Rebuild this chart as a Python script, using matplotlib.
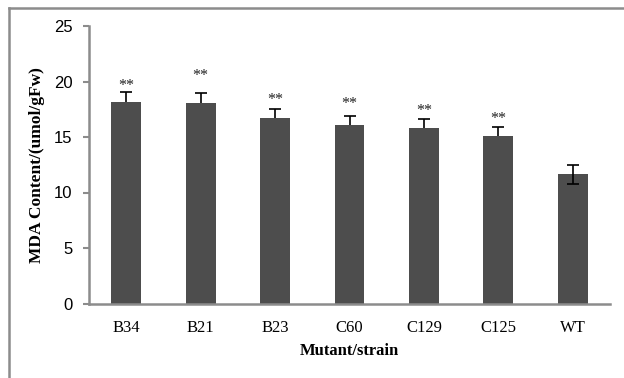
import matplotlib
matplotlib.use("Agg")
import matplotlib.pyplot as plt
from matplotlib.lines import Line2D

categories = ["B34", "B21", "B23", "C60", "C129", "C125", "WT"]
values = [18.15, 18.1, 16.7, 16.05, 15.8, 15.05, 11.65]
errors = [0.87, 0.82, 0.82, 0.85, 0.83, 0.82, 0.85]
lower_shown = [False, False, False, False, False, False, True]
star_labels = ["**", "**", "**", "**", "**", "**", ""]
star_heights = [19.6, 20.5, 18.3, 18.0, 17.3, 16.6, 0]
y_ticks = [0, 5, 10, 15, 20, 25]

fig = plt.figure(figsize=(6.24, 3.78), dpi=100)
ax = fig.add_axes([89/624, 1 - 303.5/378, (610-89)/624, (303.5-26)/378])

x = list(range(len(categories)))
ax.bar(x, values, width=0.4, color="#4d4d4d", zorder=2)
lo = [e if s else 0 for e, s in zip(errors, lower_shown)]
ax.errorbar(x, values, yerr=[lo, errors], fmt="none", ecolor="black",
            elinewidth=1.2, capsize=0, zorder=3)
tops = [v + e for v, e in zip(values, errors)]
ax.plot(x, tops, ls="none", marker="_", ms=9, mew=1.2, color="black", zorder=3)
bottoms = [v - e for v, e, s in zip(values, errors, lower_shown) if s]
bx = [xi for xi, s in zip(x, lower_shown) if s]
ax.plot(bx, bottoms, ls="none", marker="_", ms=9, mew=1.2, color="black", zorder=3)

for xi, lab, h in zip(x, star_labels, star_heights):
    if lab:
        ax.text(xi, h, lab, ha="center", va="center", fontsize=11.5,
                family="Liberation Serif", color="#222222")

ax.set_xlim(-0.5, len(categories) - 0.5)
ax.set_ylim(0, 25)
ax.set_yticks(y_ticks)
ax.set_yticklabels([str(t) for t in y_ticks], family="Liberation Sans", fontsize=12)
ax.set_xticks(x)
ax.set_xticklabels(categories, family="Liberation Serif", fontsize=12)
ax.tick_params(axis="x", length=0, pad=12)
ax.tick_params(axis="y", length=4, width=1.5, color="#8c8c8c", pad=8)
for s in ["top", "right"]:
    ax.spines[s].set_visible(False)
for s in ["left", "bottom"]:
    ax.spines[s].set_color("#8c8c8c")
    ax.spines[s].set_linewidth(1.8)

ax.set_xlabel("Mutant/strain", family="Liberation Serif", fontweight="bold", fontsize=12, labelpad=5)
ax.set_ylabel("MDA Content/(umol/gFw)", family="Liberation Serif", fontweight="bold", fontsize=12.5, labelpad=6)

# outer frame (partial)
fig.add_artist(Line2D([9/624, 9/624], [0, 1 - 8/378], transform=fig.transFigure, color="#8c8c8c", lw=1.8))
fig.add_artist(Line2D([9/624, 1], [1 - 8/378, 1 - 8/378], transform=fig.transFigure, color="#8c8c8c", lw=1.8))

fig.savefig("out.png", dpi=100)
